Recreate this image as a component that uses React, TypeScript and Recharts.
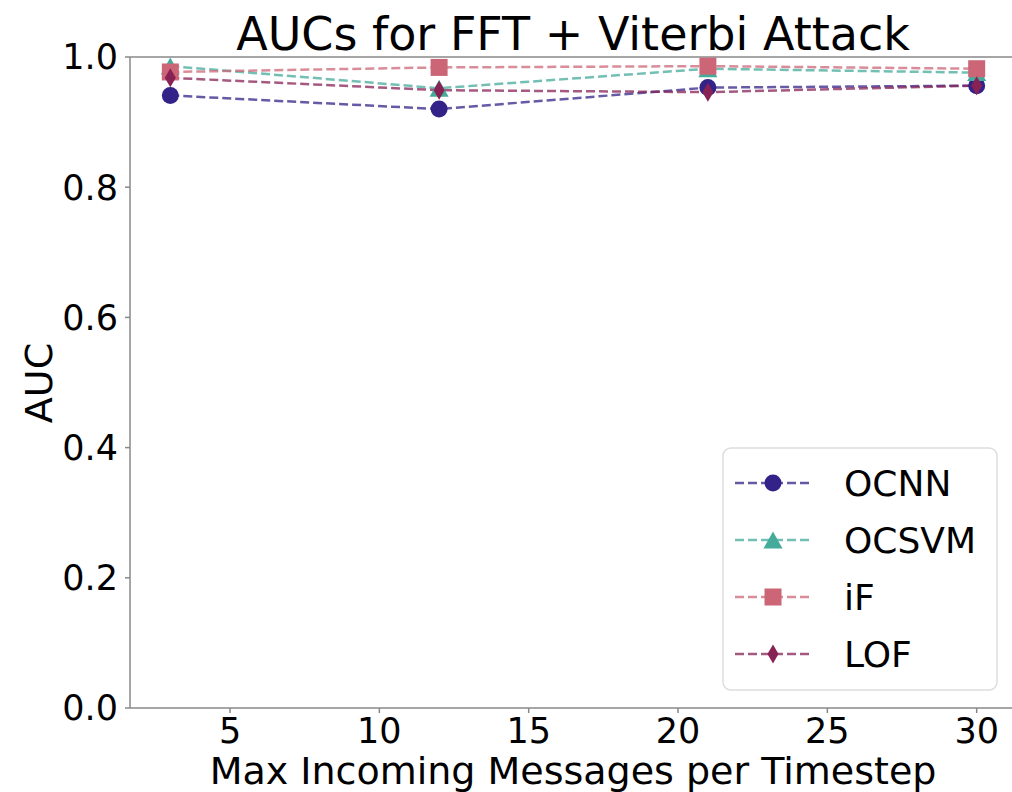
import React from 'react';
import { LineChart, Line, XAxis, YAxis, Legend, Customized, ReferenceLine } from 'recharts';

const timesteps = [3, 12, 21, 30];
const ocnn = [0.941, 0.92, 0.953, 0.956];
const ocsvm = [0.986, 0.952, 0.982, 0.976];
const iforest = [0.977, 0.984, 0.986, 0.982];
const lof = [0.968, 0.949, 0.946, 0.956];

const xTicks = [5, 10, 15, 20, 25, 30];
const yTicks = [0, 0.2, 0.4, 0.6, 0.8, 1.0];

const data = timesteps.map((t, i) => ({
  t,
  OCNN: ocnn[i],
  OCSVM: ocsvm[i],
  iF: iforest[i],
  LOF: lof[i],
}));

const FONT = '"DejaVu Sans", sans-serif';
const MS = 17; // marker size

type Shape = 'circle' | 'triangle' | 'square' | 'diamond';

const series: Array<{ key: string; color: string; shape: Shape }> = [
  { key: 'OCNN', color: '#332288', shape: 'circle' },
  { key: 'OCSVM', color: '#44AA99', shape: 'triangle' },
  { key: 'iF', color: '#CC6677', shape: 'square' },
  { key: 'LOF', color: '#882255', shape: 'diamond' },
];

const Marker = ({ cx, cy, shape, color }: { cx: number; cy: number; shape: Shape; color: string }) => {
  const h = MS / 2;
  if (shape === 'circle') return <circle cx={cx} cy={cy} r={h} fill={color} />;
  if (shape === 'square') return <rect x={cx - h} y={cy - h} width={MS} height={MS} fill={color} />;
  if (shape === 'triangle')
    return <polygon points={`${cx},${cy - h} ${cx - h - 1},${cy + h} ${cx + h + 1},${cy + h}`} fill={color} />;
  const w = h * 0.65;
  return <polygon points={`${cx},${cy - h - 1} ${cx + w},${cy} ${cx},${cy + h + 1} ${cx - w},${cy}`} fill={color} />;
};

const LegendBox = () => (
  <svg width={276} height={244} style={{ display: 'block' }}>
    <rect x={1} y={1} width={274} height={242} rx={8} fill="#fff" fillOpacity={0.8} stroke="#dddddd" strokeWidth={1.5} />
    {series.map((s, i) => {
      const y = 36 + i * 57;
      return (
        <g key={s.key}>
          <line x1={13} x2={90} y1={y} y2={y} stroke={s.color} strokeWidth={2.5} strokeDasharray="9 4" strokeOpacity={0.75} />
          <Marker cx={51} cy={y} shape={s.shape} color={s.color} />
          <text x={122} y={y} dy="0.36em" fontSize={36} fontFamily={FONT} fill="#000">
            {s.key}
          </text>
        </g>
      );
    })}
  </svg>
);

const Texts = () => (
  <g fontFamily={FONT} fill="#000">
    <text x={573} y={50} textAnchor="middle" fontSize={46}>
      AUCs for FFT + Viterbi Attack
    </text>
    <text x={573} y={784} textAnchor="middle" fontSize={38}>
      Max Incoming Messages per Timestep
    </text>
    <text transform="translate(52,383) rotate(-90)" textAnchor="middle" fontSize={38}>
      AUC
    </text>
  </g>
);

export default function App() {
  return (
    <div style={{ position: 'fixed', left: 0, top: 0, width: 1012, height: 792, overflow: 'hidden', background: '#fff' }}>
      <LineChart width={1030} height={792} data={data} margin={{ top: 57, right: 13, left: 0, bottom: 0 }}>
        <XAxis
          dataKey="t"
          type="number"
          domain={[1.65, 31.35]}
          ticks={xTicks}
          allowDataOverflow
          height={84}
          tickSize={5}
          tickMargin={5}
          stroke="#888"
          strokeWidth={1.5}
          tick={{ fontSize: 35, fontFamily: FONT, fill: '#000' }}
        />
        <YAxis
          type="number"
          domain={[0, 1]}
          ticks={yTicks}
          width={130}
          tickSize={5}
          tickMargin={7}
          stroke="#888"
          strokeWidth={1.5}
          tickFormatter={(v: number) => v.toFixed(1)}
          tick={{ fontSize: 35, fontFamily: FONT, fill: '#000' }}
        />
        <ReferenceLine y={1} stroke="#888" strokeWidth={1.5} />
        {series.map(s => (
          <Line
            key={s.key}
            dataKey={s.key}
            stroke={s.color}
            strokeWidth={2.5}
            strokeDasharray="9 4"
            strokeOpacity={0.75}
            isAnimationActive={false}
            activeDot={false}
            dot={(p: any) => <Marker key={`${s.key}-${p.index}`} cx={p.cx} cy={p.cy} shape={s.shape} color={s.color} />}
          />
        ))}
        <Legend
          layout="horizontal"
          verticalAlign="middle"
          align="center"
          content={() => <LegendBox />}
          wrapperStyle={{ position: 'absolute', left: 722, top: 447, width: 276, height: 244, bottom: 'auto', right: 'auto' }}
        />
        <Customized component={Texts} />
      </LineChart>
    </div>
  );
}
